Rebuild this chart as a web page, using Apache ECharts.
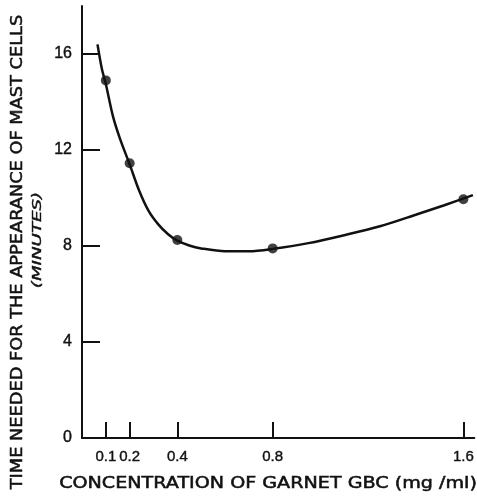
<!DOCTYPE html>
<html>
<head>
<meta charset="utf-8">
<script src="https://cdn.jsdelivr.net/npm/echarts@6/dist/echarts.min.js"></script>
<style>
  html, body { margin: 0; padding: 0; background: #fff; }
  #chart { width: 477px; height: 499px; }
</style>
</head>
<body>
<div id="chart"></div>
<script>
// Measured concentrations (mg/ml) and time to appearance (minutes)
const concentrations = [0.1, 0.2, 0.4, 0.8, 1.6];
const minutes = [14.9, 11.45, 8.25, 7.9, 9.95];

// Hand-fitted curve through the measurements
const curveX = [0.065, 0.083, 0.1, 0.13, 0.16, 0.2, 0.24, 0.28, 0.32, 0.36, 0.4, 0.45, 0.5, 0.6, 0.7, 0.8, 0.95, 1.1, 1.25, 1.4, 1.52, 1.64];
const curveY = [16.4, 15.4, 14.75, 13.4, 12.45, 11.4, 10.3, 9.45, 8.9, 8.5, 8.22, 8.02, 7.9, 7.78, 7.78, 7.88, 8.12, 8.45, 8.82, 9.3, 9.7, 10.12];

// Axis ticks
const xTicks = [0.1, 0.2, 0.4, 0.8, 1.6];
const xTickLabels = ['0.1', '0.2', '0.4', '0.8', '1.6'];
const yTicks = [0, 4, 8, 12, 16];

const ink = '#111';
const tickFont = '"Liberation Sans", Arial, sans-serif';

const chart = echarts.init(document.getElementById('chart'));
chart.setOption({
  animation: false,
  backgroundColor: '#fff',
  grid: { left: 82, right: 0, top: 6, bottom: 61 },
  xAxis: {
    type: 'value',
    min: 0,
    max: 1.646,
    splitLine: { show: false },
    axisLine: { show: true, lineStyle: { color: ink, width: 2 } },
    axisTick: {
      show: true, inside: true, length: 16,
      customValues: xTicks,
      lineStyle: { color: ink, width: 2 }
    },
    axisLabel: {
      customValues: xTicks,
      hideOverlap: false,
      color: ink, fontFamily: tickFont, fontSize: 15, margin: 11,
      textBorderColor: ink, textBorderWidth: 0.4,
      formatter: v => {
        const i = xTicks.findIndex(t => Math.abs(t - v) < 1e-6);
        return i >= 0 ? xTickLabels[i] : '';
      }
    }
  },
  yAxis: {
    type: 'value',
    min: 0,
    max: 18,
    splitLine: { show: false },
    axisLine: { show: true, lineStyle: { color: ink, width: 2 } },
    axisTick: {
      show: true, inside: true, length: 18,
      customValues: yTicks.slice(1),
      lineStyle: { color: ink, width: 2 }
    },
    axisLabel: {
      customValues: yTicks,
      color: ink, fontFamily: tickFont, fontSize: 16, margin: 10,
      textBorderColor: ink, textBorderWidth: 0.4
    }
  },
  series: [
    {
      type: 'line',
      data: curveX.map((x, i) => [x, curveY[i]]),
      smooth: 0.3,
      showSymbol: false,
      lineStyle: { color: ink, width: 2.5 },
      z: 2
    },
    {
      type: 'scatter',
      data: concentrations.map((x, i) => [x, minutes[i]]),
      symbol: 'circle',
      symbolSize: 10,
      itemStyle: { color: ink },
      z: 3
    }
  ],
  graphic: [
    {
      type: 'text',
      x: 268, y: 484,
      scaleX: 1.275,
      style: {
        text: 'CONCENTRATION OF GARNET GBC (mg /ml)',
        font: '15px "DejaVu Sans", sans-serif',
        fill: ink, stroke: ink, lineWidth: 0.5,
        textAlign: 'center', textVerticalAlign: 'middle'
      }
    },
    {
      type: 'text',
      x: 18, y: 252,
      rotation: Math.PI / 2,
      scaleX: 1.11,
      style: {
        text: 'TIME NEEDED FOR THE APPEARANCE OF MAST CELLS',
        font: '16px "DejaVu Sans", sans-serif',
        fill: ink, stroke: ink, lineWidth: 0.5,
        textAlign: 'center', textVerticalAlign: 'middle'
      }
    },
    {
      type: 'text',
      x: 38, y: 240,
      rotation: Math.PI / 2,
      scaleX: 1.4,
      style: {
        text: '(MINUTES)',
        font: 'italic 13px "DejaVu Sans", sans-serif',
        fill: ink, stroke: ink, lineWidth: 0.4,
        textAlign: 'center', textVerticalAlign: 'middle'
      }
    }
  ]
});
</script>
</body>
</html>
